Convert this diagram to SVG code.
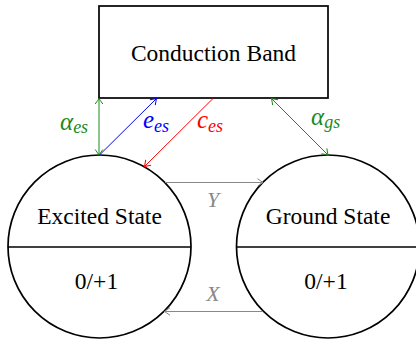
<svg xmlns="http://www.w3.org/2000/svg" width="416" height="341" viewBox="0 0 416 341">
<style>
.node{fill:#fff;stroke:#000;stroke-width:1.7}
.div{stroke:#000;stroke-width:1.7}
.lbl{font-family:"Liberation Serif",serif;font-size:23.5px;fill:#000;text-anchor:middle}
.m{font-family:"Liberation Serif",serif;font-style:italic;font-size:25px}
.sub{font-size:18px}
.c{fill:none;stroke-width:1}
</style>
<defs>
<marker id="ag" viewBox="-7 -5 8 10" refX="0" refY="0" markerWidth="8" markerHeight="10" markerUnits="userSpaceOnUse" orient="auto-start-reverse"><path d="M-5.5,-3.8 Q-1.5,-1 0,0 Q-1.5,1 -5.5,3.8" fill="none" stroke="#1a8a1a" stroke-width="1"/></marker>
<marker id="ab" viewBox="-7 -5 8 10" refX="0" refY="0" markerWidth="8" markerHeight="10" markerUnits="userSpaceOnUse" orient="auto-start-reverse"><path d="M-5.5,-3.8 Q-1.5,-1 0,0 Q-1.5,1 -5.5,3.8" fill="none" stroke="#0000ff" stroke-width="1"/></marker>
<marker id="ar" viewBox="-7 -5 8 10" refX="0" refY="0" markerWidth="8" markerHeight="10" markerUnits="userSpaceOnUse" orient="auto-start-reverse"><path d="M-5.5,-3.8 Q-1.5,-1 0,0 Q-1.5,1 -5.5,3.8" fill="none" stroke="#ff0000" stroke-width="1"/></marker>
<marker id="ay" viewBox="-7 -5 8 10" refX="0" refY="0" markerWidth="8" markerHeight="10" markerUnits="userSpaceOnUse" orient="auto-start-reverse"><path d="M-5.5,-3.8 Q-1.5,-1 0,0 Q-1.5,1 -5.5,3.8" fill="none" stroke="#888" stroke-width="1"/></marker>
</defs>
<g id="conduction-band">
<rect class="node" x="99" y="6" width="229" height="92"/>
<text class="lbl" x="213.5" y="61">Conduction Band</text>
</g>
<g id="excited-state">
<circle class="node" cx="99.5" cy="246.5" r="91.5"/>
<line class="div" x1="8" y1="247" x2="191" y2="247"/>
<text class="lbl" x="99.5" y="224">Excited State</text>
<text class="lbl" x="96.5" y="289">0/+1</text>
</g>
<g id="ground-state">
<circle class="node" cx="328" cy="246.5" r="91.5"/>
<line class="div" x1="236.5" y1="247" x2="420" y2="247"/>
<text class="lbl" x="328" y="224">Ground State</text>
<text class="lbl" x="326" y="289">0/+1</text>
</g>
<g id="connectors">
<line class="c" stroke="#1a8a1a" x1="99" y1="98.5" x2="99" y2="155" marker-start="url(#ag)" marker-end="url(#ag)"/>
<line class="c" stroke="#0000ff" x1="99.5" y1="155" x2="156.5" y2="98.5" marker-end="url(#ab)"/>
<line class="c" stroke="#ff0000" x1="213" y1="98.5" x2="144.5" y2="166.5" marker-end="url(#ar)"/>
<line class="c" stroke="#1a8a1a" x1="271.5" y1="98.5" x2="328" y2="155" marker-start="url(#ag)" marker-end="url(#ag)"/>
<line class="c" stroke="#888" x1="165" y1="182.5" x2="263" y2="182.5" marker-end="url(#ay)"/>
<line class="c" stroke="#888" x1="263" y1="311.5" x2="164.5" y2="311.5" marker-end="url(#ay)"/>
<text class="m" x="60" y="130" fill="#1a8a1a">α<tspan class="sub" dy="3">es</tspan></text>
<text class="m" x="143" y="128" fill="#0000ff">e<tspan class="sub" dy="4">es</tspan></text>
<text class="m" x="197" y="128" fill="#ff0000">c<tspan class="sub" dy="4">es</tspan></text>
<text class="m" x="311" y="125" fill="#1a8a1a">α<tspan class="sub" dy="3">gs</tspan></text>
<text class="m" x="213" y="207" fill="#888" text-anchor="middle" style="font-size:22px">Y</text>
<text class="m" x="213" y="301" fill="#888" text-anchor="middle" style="font-size:22px">X</text>
</g>
</svg>
